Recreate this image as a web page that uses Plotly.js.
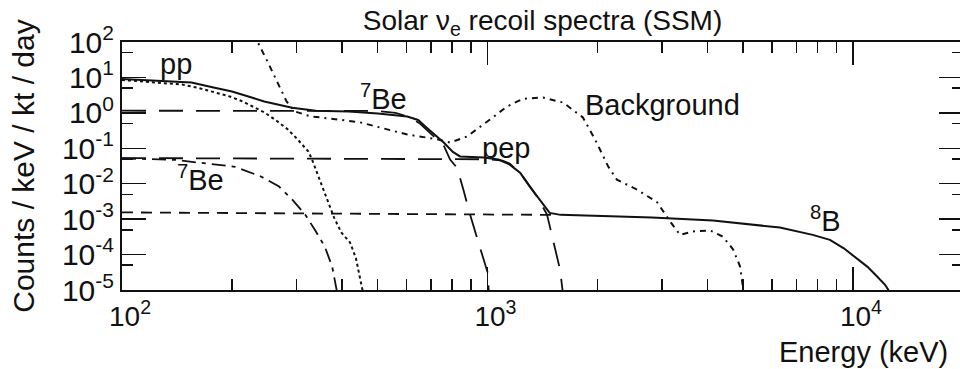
<!DOCTYPE html>
<html>
<head>
<meta charset="utf-8">
<script src="https://cdn.plot.ly/plotly-3.0.1.min.js"></script>
<style>
  html, body { margin: 0; padding: 0; overflow: hidden; background: #fff; }
  #chart { width: 963px; height: 369px; }
</style>
</head>
<body>
<div id="chart"></div>
<script>
// ---- Data (energy in keV, counts / keV / kt / day) ----
const totalEnergy = [100, 117, 155, 178, 200, 224, 245, 292, 339, 417, 501, 603, 646, 682, 759, 804, 841, 977, 1072, 1148, 1230, 1306, 1396, 1479, 1585, 1905, 2818, 4140, 5250, 6310, 7760, 8650, 9440, 10230, 10960, 11640, 12240, 12590];
const totalCounts = [9.1, 8.5, 7.2, 5.2, 4.0, 2.8, 2.1, 1.4, 1.15, 1.1, 0.96, 0.79, 0.63, 0.38, 0.145, 0.079, 0.059, 0.055, 0.048, 0.035, 0.020, 0.0083, 0.0032, 0.0015, 0.00132, 0.00126, 0.00112, 0.00091, 0.00072, 0.00058, 0.00036, 0.00026, 0.00015, 0.000081, 0.000045, 0.000024, 0.000014, 0.0000089];

const ppEnergy = [100, 115.6, 145.9, 161.4, 179.5, 197.2, 213.8, 231.2, 245.5, 263.0, 284.4, 302.0, 323.6, 331.1, 352.4, 366.4, 380.2, 398.1, 420.7, 436.5, 453.9, 457.1];
const ppCounts = [8.5, 7.6, 6.3, 5.1, 3.7, 2.9, 2.1, 1.4, 1.02, 0.63, 0.34, 0.18, 0.081, 0.048, 0.0083, 0.0030, 0.00112, 0.00042, 0.00022, 0.000079, 0.0000112, 0.0000079];

const be7HighEnergy = [100, 300, 500, 560, 603, 650, 682, 720, 759, 790, 826, 860, 896, 940, 985, 1000, 1008];
const be7HighCounts = [1.15, 1.15, 1.13, 1.0, 0.8, 0.52, 0.33, 0.2, 0.12, 0.048, 0.028, 0.0065, 0.00135, 0.00026, 0.000055, 0.000032, 0.0000095];

const be7LowEnergy = [100, 140, 160, 204, 240, 269, 292, 317, 337, 359, 376, 387];
const be7LowCounts = [0.052, 0.047, 0.04, 0.03, 0.016, 0.0083, 0.0036, 0.00135, 0.0005, 0.000166, 0.000045, 0.0000095];

const pepEnergy = [100, 1000, 1100, 1150, 1230, 1306, 1365, 1455, 1510, 1580, 1605];
const pepCounts = [0.053, 0.049, 0.045, 0.037, 0.02, 0.0085, 0.0044, 0.00135, 0.00026, 0.000037, 0.0000095];

const b8Energy = [100, 1000, 1500];
const b8Counts = [0.00155, 0.0014, 0.00132];

const bgEnergy = [226, 235, 251, 267, 282, 297, 327, 371, 448, 603, 728, 789, 879, 1016, 1130, 1250, 1419, 1611, 1824, 1968, 2138, 2260, 2565, 2911, 3162, 3365, 3648, 4064, 4406, 4700, 4910, 5012];
const bgCounts = [160, 100, 26, 7.2, 2.1, 1.1, 0.8, 0.69, 0.54, 0.245, 0.18, 0.145, 0.215, 0.65, 1.5, 2.5, 2.7, 1.95, 0.74, 0.18, 0.031, 0.013, 0.0068, 0.003, 0.00085, 0.00036, 0.00045, 0.00048, 0.00032, 0.00014, 0.000046, 0.00001];

const xTickVals = [100, 1000, 10000];
const xTickText = ['10<sup>2</sup>', '10<sup>3</sup>', '10<sup>4</sup>'];
const yTickVals = [1e-5, 1e-4, 1e-3, 1e-2, 1e-1, 1, 10, 100];
const yTickText = ['10<sup>-5</sup>', '10<sup>-4</sup>', '10<sup>-3</sup>', '10<sup>-2</sup>', '10<sup>-1</sup>', '10<sup>0</sup>', '10<sup>1</sup>', '10<sup>2</sup>'];

const labels = [
  {text: 'pp', e: 140.6, c: 24.7},
  {text: '<sup>7</sup>Be', e: 519, c: 2.72},
  {text: 'pep', e: 1125, c: 0.105},
  {text: 'Background', e: 3013, c: 1.71},
  {text: '<sup>7</sup>Be', e: 164, c: 0.0148},
  {text: '<sup>8</sup>B', e: 8430, c: 0.00103}
];
// -------------------------------------------------------------------------------

const ink = '#111111';
const FONT = 'Liberation Sans, Arial, Helvetica, sans-serif';

function line(x, y, dash, width) {
  return {x: x, y: y, type: 'scatter', mode: 'lines', hoverinfo: 'skip',
          line: {color: ink, width: width || 1.8, dash: dash}};
}

const traces = [
  line(b8Energy, b8Counts, '11px,8px', 1.8),
  line(pepEnergy, pepCounts, '24px,13px', 1.8),
  line(be7HighEnergy, be7HighCounts, '24px,13px', 1.8),
  line(be7LowEnergy, be7LowCounts, '14px,6px,4px,6px', 1.8),
  line(ppEnergy, ppCounts, '3px,3px', 2),
  line(bgEnergy, bgCounts, '6px,5px,2px,5px', 2),
  line(totalEnergy, totalCounts, 'solid', 2)
];

function minorVals(decStart, decEnd, mults) {
  const out = [];
  for (let d = decStart; d <= decEnd; d++) {
    mults.forEach(m => out.push(m * Math.pow(10, d)));
  }
  return out;
}

const layout = {
  width: 963, height: 369,
  margin: {l: 122, r: 0, t: 42, b: 79},
  paper_bgcolor: '#fff', plot_bgcolor: '#fff',
  showlegend: false,
  font: {family: FONT, color: ink, size: 28},
  title: {
    text: 'Solar ν<sub>e</sub> recoil spectra (SSM)',
    font: {family: FONT, size: 28, color: ink},
    x: 0.5, xref: 'paper', xanchor: 'center',
    y: 0.946, yref: 'container', yanchor: 'middle'
  },
  xaxis: {
    type: 'log', range: [2, Math.log10(20000)],
    showgrid: false, zeroline: false,
    showline: true, linecolor: ink, linewidth: 2, mirror: 'ticks',
    ticks: 'inside', ticklen: 23, tickwidth: 1.5, tickcolor: ink,
    tickmode: 'array', tickvals: xTickVals, ticktext: xTickText,
    ticklabelshift: 8,
    tickfont: {family: FONT, size: 28, color: ink},
    minor: {ticks: 'inside', ticklen: 11, tickwidth: 1.5, tickcolor: ink,
            tickmode: 'array', tickvals: minorVals(2, 4, [2, 3, 4, 5, 6, 7, 8, 9]).filter(v => v < 20000)}
  },
  yaxis: {
    type: 'log', range: [-5, 2],
    showgrid: false, zeroline: false,
    showline: true, linecolor: ink, linewidth: 2, mirror: 'ticks',
    ticks: 'inside', ticklen: 24, tickwidth: 1.5, tickcolor: ink,
    tickmode: 'array', tickvals: yTickVals, ticktext: yTickText,
    tickfont: {family: FONT, size: 30, color: ink},
    minor: {ticks: 'inside', ticklen: 11, tickwidth: 1.5, tickcolor: ink,
            tickmode: 'array', tickvals: minorVals(-6, 1, [5])},
    title: {text: 'Counts / keV / kt / day', font: {family: FONT, size: 30, color: ink}, standoff: 18}
  },
  annotations: labels.map(l => ({
    text: l.text, x: Math.log10(l.e), y: Math.log10(l.c), xref: 'x', yref: 'y',
    showarrow: false, xanchor: 'center', yanchor: 'middle',
    font: {family: FONT, size: 29, color: ink}
  })).concat([{
    text: 'Energy (keV)', xref: 'paper', yref: 'paper',
    x: (950 - 122) / 841, y: (290 - 352) / 248,
    xanchor: 'right', yanchor: 'middle', showarrow: false,
    font: {family: FONT, size: 29, color: ink}
  }])
};

Plotly.newPlot('chart', traces, layout, {staticPlot: true, displayModeBar: false});
</script>
</body>
</html>
